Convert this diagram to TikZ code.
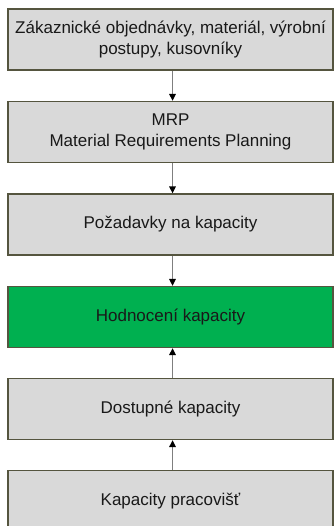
\documentclass[tikz,border=0pt]{standalone}
\usepackage{fontspec}
\setmainfont{Liberation Sans}
\usetikzlibrary{arrows.meta}
\definecolor{boxgray}{HTML}{D9D9D9}
\definecolor{boxgreen}{HTML}{00B050}
\definecolor{boxborder}{HTML}{55553F}
\definecolor{arrowgray}{HTML}{7F7F7F}
\begin{document}
\begin{tikzpicture}[x=1pt,y=-1pt,
  box/.style={draw=boxborder, line width=1.3pt, fill=boxgray, minimum width=325pt, minimum height=61pt,
    inner sep=0pt, align=center, font=\fontsize{17}{20.5}\selectfont, text=black!90},
  greenbox/.style={box, fill=boxgreen},
  flow/.style={draw=arrowgray, line width=1.4pt, -{Triangle[width=6.5pt,length=7pt,color=black]}}]
\useasboundingbox (0,0) rectangle (334,526);
\node[box] (b1) at (170.5,39.5) {Zákaznické objednávky, materiál, výrobní\\postupy, kusovníky};
\node[box] (b2) at (170.5,132) {MRP\\Material Requirements Planning};
\node[box] (b3) at (170.5,224.5) {Požadavky na kapacity};
\node[greenbox] (b4) at (170.5,317) {Hodnocení kapacity};
\node[box] (b5) at (170.5,409) {Dostupné kapacity};
\node[box] (b6) at (170.5,501) {Kapacity pracovišť};
\draw[flow] ([xshift=2pt]b1.south) -- ([xshift=2pt]b2.north);
\draw[flow] ([xshift=2pt]b2.south) -- ([xshift=2pt]b3.north);
\draw[flow] ([xshift=2pt]b3.south) -- ([xshift=2pt]b4.north);
\draw[flow] ([xshift=2pt]b5.north) -- ([xshift=2pt]b4.south);
\draw[flow] ([xshift=2pt]b6.north) -- ([xshift=2pt]b5.south);
\end{tikzpicture}
\end{document}
